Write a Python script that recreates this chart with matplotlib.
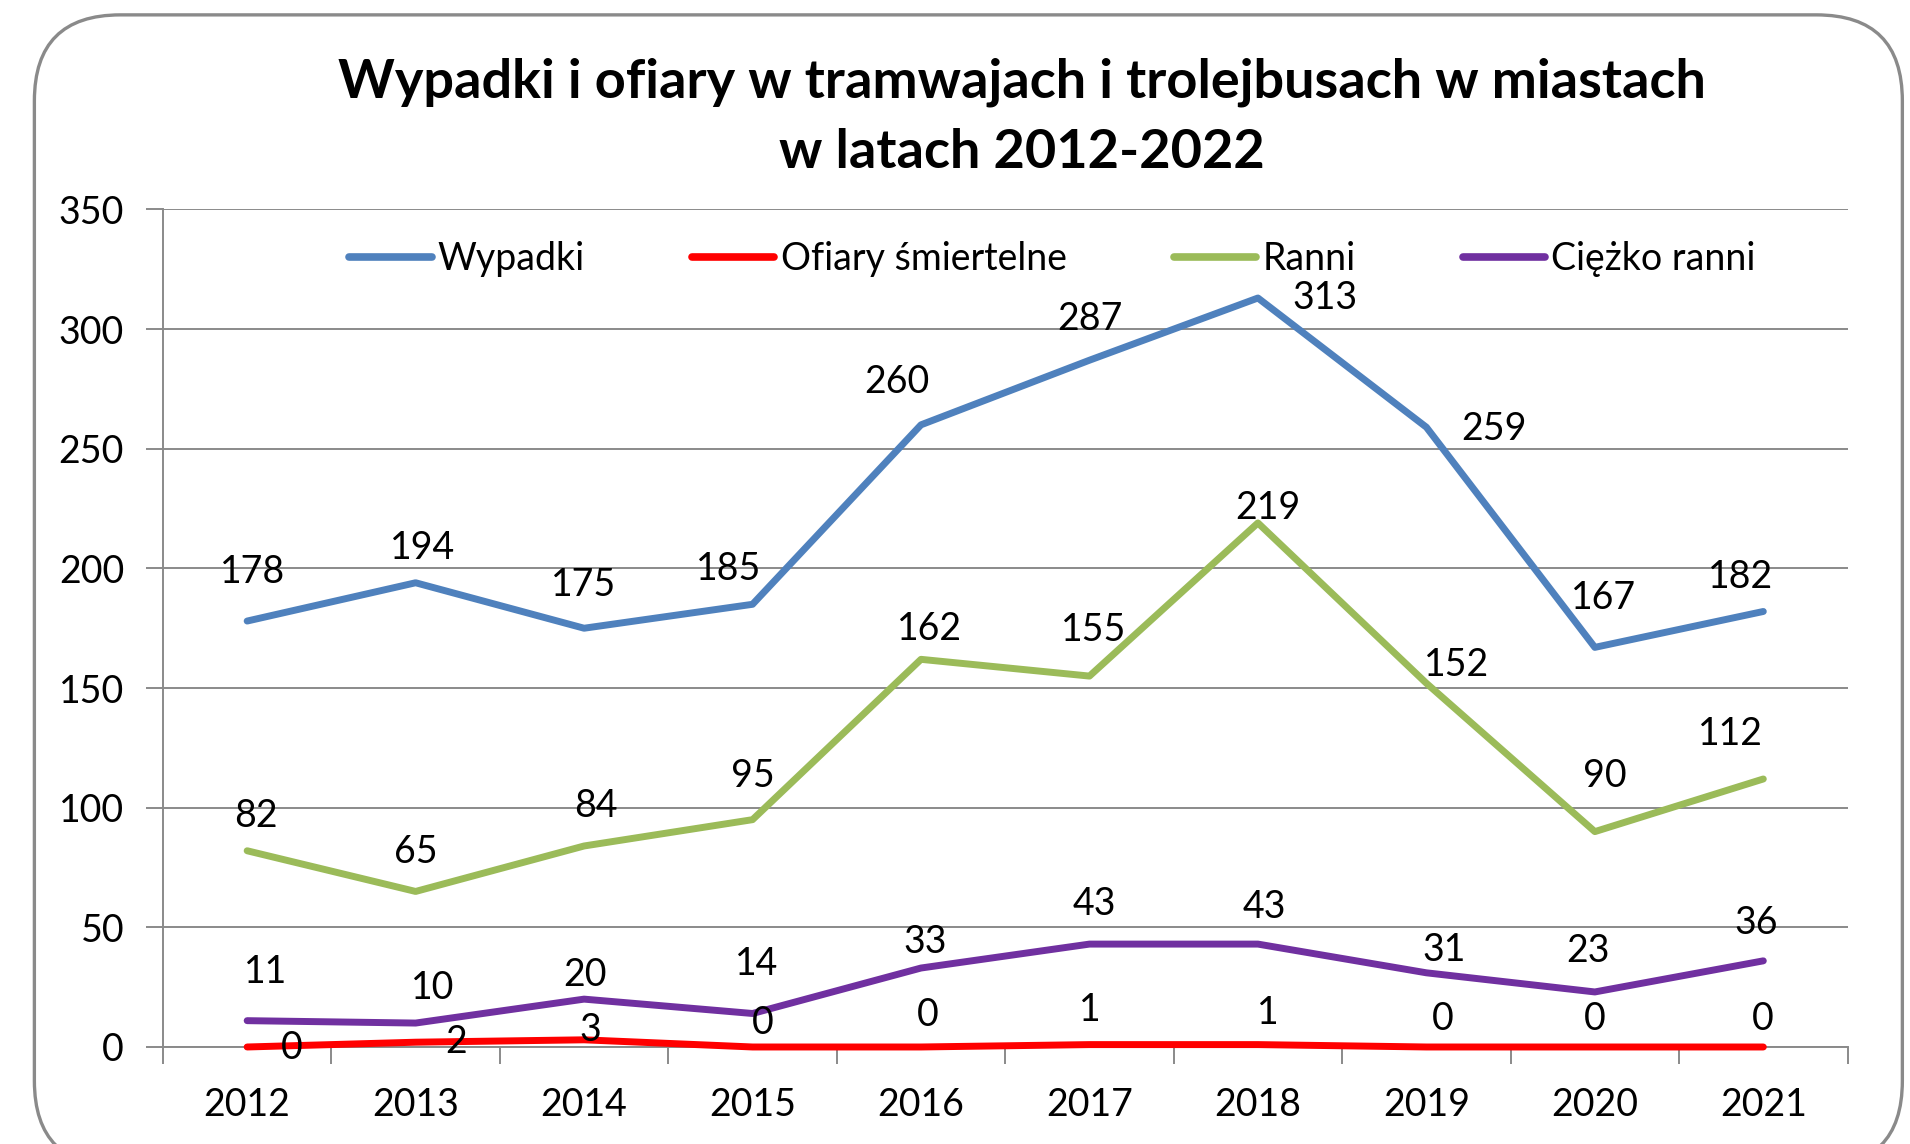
import numpy as np
import matplotlib.pyplot as plt
from matplotlib.patches import FancyBboxPatch

plt.rcParams['font.family'] = ['Lato', 'DejaVu Sans']

years = ['2012', '2013', '2014', '2015', '2016', '2017', '2018', '2019', '2020', '2021']
wypadki = [178, 194, 175, 185, 260, 287, 313, 259, 167, 182]
smiertelne = [0, 2, 3, 0, 0, 1, 1, 0, 0, 0]
ranni = [82, 65, 84, 95, 162, 155, 219, 152, 90, 112]
ciezko = [11, 10, 20, 14, 33, 43, 43, 31, 23, 36]

names = ['Wypadki', 'Ofiary śmiertelne', 'Ranni', 'Ciężko ranni']
colors = ['#4F81BD', '#FF0000', '#9BBB59', '#7030A0']

# label offsets in pixels (dx, dy)
off_wyp = [(5, 49), (7, 35), (0, 43), (-24, 35), (-24, 43), (0, 41), (67, 0), (68, -2), (9, 49), (-23, 34)]
off_sm = [(45, -1), (41, 0), (6, 10), (10, 24), (7, 32), (0, 35), (10, 32), (16, 28), (0, 28), (-1, 28)]
off_ran = [(9, 35), (0, 39), (12, 40), (0, 44), (9, 30), (4, 46), (10, 15), (30, 18), (10, 56), (-33, 45)]
off_cz = [(18, 49), (17, 35), (1, 24), (4, 49), (4, 26), (5, 40), (6, 37), (18, 23), (-7, 41), (-7, 38)]

FS = 27

fig = plt.figure(figsize=(19.1, 11.44), dpi=100)
fig.patch.set_facecolor('white')
box = FancyBboxPatch((0.018, -0.02), 0.978, 1.007, transform=fig.transFigure,
                     boxstyle='round,pad=0,rounding_size=0.045',
                     facecolor='white', edgecolor='#8a8a8a', linewidth=2.4,
                     mutation_aspect=1.67, zorder=-5)
fig.patches.append(box)

ax = fig.add_axes([0.0853, 0.0848, 0.882, 0.7321])
ax.set_facecolor('none')
x = np.arange(len(years))

series = [wypadki, smiertelne, ranni, ciezko]
offsets = [off_wyp, off_sm, off_ran, off_cz]
lines = []
for vals, name, col in zip(series, names, colors):
    ln, = ax.plot(x, vals, color=col, lw=5.0, label=name, solid_capstyle='round',
                  solid_joinstyle='round', clip_on=False, zorder=3)
    lines.append(ln)

for vals, offs in zip(series, offsets):
    for xi, v, (dx, dy) in zip(x, vals, offs):
        ax.annotate(str(v), (xi, v), xytext=(dx, dy), textcoords='offset pixels',
                    ha='center', va='center', fontsize=FS, color='black', zorder=5)

ax.set_xlim(-0.5, len(years) - 0.5)
ax.set_ylim(0, 350)
ax.set_yticks(range(0, 351, 50))
ax.yaxis.grid(True, color='#8a8a8a', lw=1.4)
ax.set_axisbelow(True)
ax.set_xticks(np.arange(-0.5, len(years), 1.0))
ax.set_xticklabels([])
ax.set_xticks(x, minor=True)
ax.set_xticklabels(years, minor=True)
ax.tick_params(axis='x', which='minor', length=0, labelsize=FS, pad=29)
ax.tick_params(axis='x', which='major', length=12, color='#8a8a8a', width=1.4)
ax.tick_params(axis='y', length=12, color='#8a8a8a', width=1.4, labelsize=FS, pad=16)
for s in ['top', 'right']:
    ax.spines[s].set_visible(False)
for s in ['left', 'bottom']:
    ax.spines[s].set_color('#8a8a8a')
    ax.spines[s].set_linewidth(1.4)

leg = fig.legend(handles=lines, loc='center', bbox_to_anchor=(0.551, 0.7736), ncol=4, frameon=False,
                 fontsize=FS, handlelength=2.2, handletextpad=0.17, columnspacing=2.85)
for h in leg.get_lines():
    h.set_linewidth(5.5)

fig.text(0.535, 0.928, 'Wypadki i ofiary w tramwajach i trolejbusach w miastach',
         ha='center', va='center', fontsize=39, fontweight='bold')
fig.text(0.535, 0.867, 'w latach 2012-2022', ha='center', va='center', fontsize=39, fontweight='bold')

fig.savefig('out.png', dpi=100)
